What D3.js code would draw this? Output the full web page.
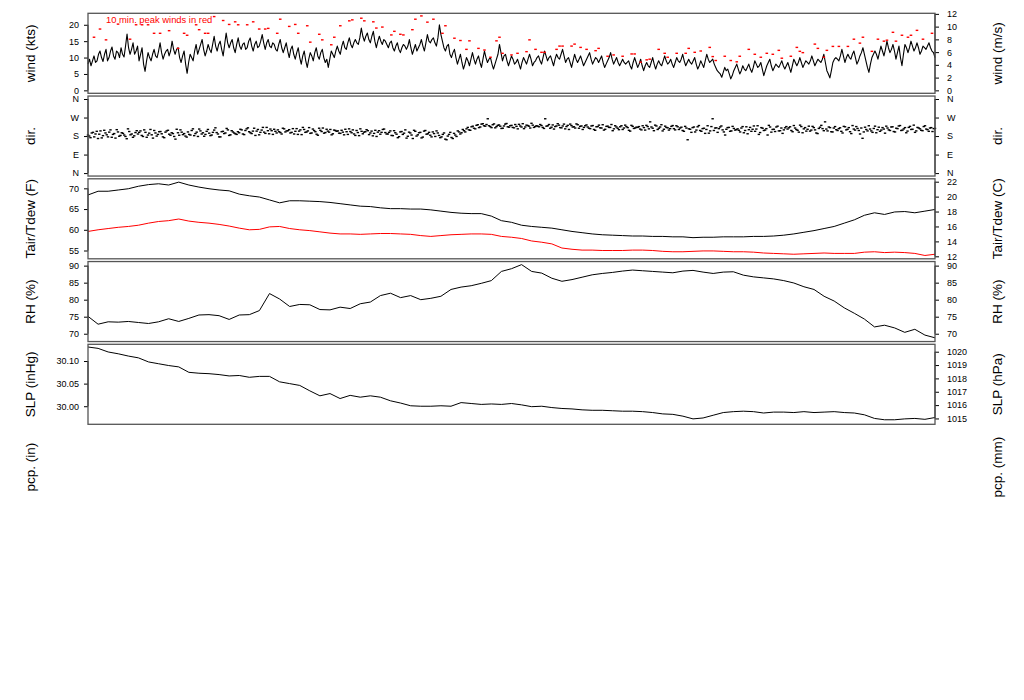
<!DOCTYPE html>
<html><head><meta charset="utf-8">
<script src="https://cdn.jsdelivr.net/npm/d3@7"></script>
<style>body{margin:0;background:#fff;} svg text{font-family:"Liberation Sans",Arial,Helvetica,sans-serif;}</style>
</head><body><script>
// ---------- DATA ----------
// wind speed (kts), main samples
const windKts = [
8.0,7.5,10.5,9.0,12.0,8.8,12.5,10.0,13.2,9.5,
11.5,13.0,10.2,17.2,11.0,14.5,12.0,9.0,13.0,5.8,
11.5,9.0,12.5,10.0,14.5,9.5,12.0,10.5,15.0,11.0,
13.0,8.5,12.0,5.2,11.0,9.0,14.0,12.5,15.5,10.5,
14.0,11.5,16.5,12.0,15.0,10.5,17.5,13.0,15.5,11.5,
16.0,12.5,14.5,13.0,16.0,12.0,15.0,13.5,17.0,12.5,
15.5,13.0,14.0,12.0,15.5,11.5,14.5,10.0,13.5,9.5,
13.0,8.0,12.0,7.0,11.5,9.0,13.0,9.5,12.5,8.5,
7.0,12.0,10.0,13.5,11.0,15.0,12.5,16.0,13.0,15.5,
14.0,19.0,15.0,17.5,14.5,18.0,13.0,16.5,14.0,15.0,
13.0,15.0,12.0,14.5,11.5,14.0,12.5,15.5,11.0,14.0,
13.0,15.5,12.0,17.0,14.5,16.0,13.5,20.0,15.0,12.0,
14.0,10.0,12.5,8.0,11.0,6.5,10.0,7.5,11.5,8.0,
10.5,7.0,12.0,8.5,10.0,6.5,9.5,14.0,9.0,11.0,
7.5,10.5,8.0,9.5,6.5,10.0,8.0,11.0,7.5,9.0,
10.5,8.0,12.0,9.0,10.5,7.5,11.0,9.5,12.5,8.5,
10.0,7.0,11.0,8.5,10.5,7.5,9.5,11.5,8.0,10.0,
8.5,10.5,7.0,9.0,11.5,8.0,10.0,7.5,9.5,8.0,
9.0,6.5,10.0,7.0,9.5,6.0,8.5,7.0,10.0,6.5,
9.0,7.5,10.5,8.0,9.5,7.0,10.0,8.5,11.0,7.5,
9.5,8.0,10.0,6.5,9.0,7.0,11.0,8.5,9.5,7.0,
5.5,4.0,7.0,6.5,3.5,6.0,8.0,5.0,7.5,6.0,
8.0,5.5,9.0,7.0,8.5,4.5,7.5,9.5,6.0,8.0,
7.0,9.0,6.5,8.5,5.5,9.5,7.5,10.0,7.0,9.0,
8.0,10.5,7.5,9.5,8.5,11.0,6.0,3.8,8.5,10.0,
9.0,12.5,8.5,11.0,9.5,12.0,8.0,10.5,13.0,9.0,
5.5,10.0,12.0,9.5,13.5,10.5,15.0,11.5,14.0,9.5,
13.5,7.5,14.0,11.5,15.0,12.0,14.5,11.0,13.5,12.5,
14.5,12.0,10.0];
// wind speed (kts), samples in between the main ones
const windKtsMid = [
9.5,9.0,8.5,11.0,10.0,11.0,9.0,12.0,10.5,12.0,
10.0,11.0,13.5,13.0,12.5,11.0,13.5,11.0,8.0,9.0,
10.0,11.0,10.5,12.0,11.5,11.0,12.5,12.0,12.5,12.5,
10.0,10.5,8.0,8.5,10.0,12.0,11.0,14.0,12.5,12.0,
12.5,14.0,13.5,14.0,12.5,14.0,14.5,14.5,13.0,14.0,
13.5,14.0,12.5,15.0,13.5,14.0,13.0,15.0,14.5,14.5,
13.5,14.5,12.5,14.0,13.0,13.0,12.0,12.5,11.0,11.5,
10.0,10.5,9.0,9.5,10.5,11.5,10.5,11.5,10.0,9.5,
9.5,11.0,12.0,12.0,13.5,13.0,14.5,14.0,14.5,14.5,
16.0,16.5,16.5,15.5,16.5,15.0,15.0,15.0,15.5,14.0,
14.5,13.0,13.5,12.5,13.0,13.5,13.5,13.0,12.5,12.0,
14.0,13.5,14.5,15.0,15.5,14.5,16.0,17.0,13.0,13.5,
11.0,11.5,10.0,9.5,8.5,8.0,9.0,9.5,9.5,9.5,
8.5,9.5,10.0,9.5,8.0,8.0,11.0,11.5,10.5,9.0,
9.0,9.5,8.5,8.0,8.5,9.0,9.5,9.5,8.5,10.0,
9.0,10.0,10.5,10.0,9.0,9.5,10.0,11.0,10.5,9.5,
8.5,9.0,9.5,9.5,9.0,8.5,10.5,9.5,9.0,9.5,
9.5,8.5,8.0,10.0,9.5,9.0,8.5,8.5,8.5,8.5,
7.5,8.5,8.5,8.0,7.5,7.5,7.5,8.5,8.0,8.0,
8.0,9.0,9.0,8.5,8.0,8.5,9.0,9.5,9.0,8.5,
8.5,9.0,8.0,7.5,8.0,9.0,9.5,9.0,8.0,6.0,
5.0,5.5,6.0,5.0,4.5,7.0,6.5,6.0,6.5,7.0,
6.5,7.0,8.0,7.5,6.5,6.0,8.5,7.5,7.0,7.5,
8.0,7.5,7.5,7.0,7.5,8.5,8.5,8.5,8.0,8.5,
9.0,9.0,8.5,9.0,9.5,8.5,5.0,6.0,9.5,9.5,
10.5,10.5,10.0,10.0,11.0,10.0,9.0,11.5,11.0,7.0,
8.0,11.0,11.0,11.5,12.0,12.5,13.0,12.5,12.0,11.5,
10.0,11.0,13.0,13.0,13.5,13.0,13.0,12.0,13.0,13.5,
13.0,11.5];

// 10-min peak winds: main-sample index and value (kts)
const gustIdx = [2,4,6,10,14,16,18,20,22,24,27,30,32,33,36,37,39,40,42,45,47,49,50,53,55,57,59,60,63,64,67,69,70,
73,74,77,78,81,82,84,87,88,91,92,95,96,98,101,102,104,105,108,109,111,113,115,118,119,122,124,126,127,130,132,134,136,137,138,141,
143,146,147,149,151,152,156,157,158,161,162,164,166,169,170,173,175,178,181,182,184,186,187,190,192,193,196,199,200,202,204,207,208,209,212,
214,216,217,220,222,224,226,228,230,231,234,236,237,238,242,243,245,246,248,250,253,255,257,258,261,263,265,266,268,269,271,273,274,276,278,281];
const gustKts = [16.2,18.7,15.4,20.2,15.6,20.0,20.0,20.0,17.4,17.4,18.2,12.8,17.4,16.8,20.0,18.5,17.4,17.4,22.5,21.3,20.1,20.9,20.0,20.0,20.9,18.7,18.7,18.9,17.4,21.7,19.5,20.1,17.4,
19.7,14.7,17.1,15.4,13.9,16.2,19.7,21.2,21.5,22.0,21.2,20.9,19.0,19.3,16.9,18.0,17.1,16.9,18.5,21.7,22.7,20.8,21.7,17.4,19.7,15.9,15.2,12.5,15.1,12.8,12.3,10.1,15.1,16.2,11.3,10.8,
11.3,11.8,15.4,12.5,11.6,11.6,12.5,13.5,13.5,13.5,14.1,13.1,12.5,12.1,12.8,10.4,10.8,10.4,11.1,11.1,8.6,9.3,9.5,12.5,11.3,10.1,11.3,11.3,12.8,11.6,12.0,13.1,10.3,9.1,10.4,
9.1,8.7,10.4,12.5,11.0,10.1,11.3,11.0,12.2,9.8,10.4,13.1,11.9,11.5,14.1,12.8,10.1,12.2,13.4,13.4,13.4,15.6,14.4,16.2,11.9,15.6,15.0,15.3,17.7,15.0,16.8,16.2,16.8,18.3,15.6,17.4];

// wind direction (deg), two interleaved sample sets
const dirDegA = [
185,172,198,190,168,205,182,195,176,210,188,170,200,183,193,178,215,186,174,197,
190,205,178,198,185,212,170,195,188,202,176,199,208,184,192,165,196,210,187,180,
200,185,215,192,178,205,196,188,212,182,198,220,190,176,203,195,210,186,200,191,
201,213,190,207,220,196,204,183,212,198,222,193,206,214,188,203,210,197,218,200,
206,195,216,203,188,210,222,198,205,193,214,201,184,208,219,197,204,212,191,207,
205,193,199,213,188,202,210,183,197,215,191,201,206,195,181,208,199,189,212,197,
190,205,182,196,172,200,188,210,179,195,168,203,186,198,175,207,191,184,200,178,
195,172,188,165,180,198,168,185,205,190,212,200,222,208,228,215,235,224,240,228,
264,226,235,220,232,228,218,238,225,230,222,236,215,229,240,224,231,219,233,226,
228,236,222,264,230,218,234,226,240,221,229,215,232,238,224,219,235,227,212,230,
224,216,231,208,226,220,235,213,228,222,206,230,218,225,212,233,221,204,227,219,
222,214,230,209,226,249,218,233,212,224,205,228,220,216,231,210,225,219,207,227,
162,213,221,200,225,207,216,193,230,205,264,219,198,224,210,185,221,203,227,209,
215,200,226,207,191,222,213,203,230,197,218,209,185,224,212,202,228,206,193,220,
214,225,201,219,208,233,196,221,213,204,227,210,192,223,216,249,205,221,200,226,
207,220,195,225,213,201,231,209,217,190,169,223,205,214,198,228,211,203,221,194,
219,207,225,200,216,231,209,221,204,227,213,198,222,215,206,230,211,219,202,217];
const dirDegB = [
180,195,176,203,189,171,208,186,199,174,192,211,179,196,185,167,202,190,181,206,
198,183,210,174,194,186,207,180,201,191,172,205,189,196,178,213,184,199,192,175,
188,207,182,199,214,190,179,203,194,185,209,197,176,201,192,217,183,206,195,188,
196,210,187,215,201,192,218,204,186,209,199,222,191,206,213,195,201,190,215,205,
211,198,190,216,204,187,212,200,221,195,207,189,218,202,194,213,199,186,209,203,
194,208,186,201,215,196,190,207,182,203,199,211,187,204,193,178,206,198,214,190,
198,183,206,189,177,202,194,170,199,185,208,180,196,171,204,189,198,176,192,205,
183,176,195,162,188,173,193,178,200,196,206,215,210,225,218,232,221,238,230,236,
230,221,239,226,234,217,229,241,223,232,220,227,237,224,216,233,228,242,222,230,
225,231,217,228,236,223,214,229,233,220,238,226,212,231,225,239,218,229,222,234,
218,229,212,225,233,219,209,227,222,236,215,224,211,230,219,226,208,232,217,223,
226,210,221,232,215,224,206,229,218,235,213,222,209,227,216,230,212,223,203,219,
215,198,224,209,231,203,218,212,194,226,207,220,216,229,200,213,222,205,217,211,
208,219,196,225,211,203,229,214,188,221,207,216,232,199,213,224,205,219,210,226,
220,207,231,212,199,226,215,204,228,209,221,195,217,232,206,214,224,201,219,211,
216,203,227,210,221,192,214,226,207,219,200,212,230,205,217,196,223,209,214,228,
210,224,202,218,229,207,215,196,222,212,233,205,219,208,226,214,203,221,216,210];

const tairF = [
68.4,69.3,69.3,69.6,69.9,70.5,70.9,71.1,70.8,71.5,
70.8,70.3,69.9,69.6,69.4,68.6,68.2,67.9,67.2,66.5,
67.0,67.0,66.9,66.8,66.6,66.3,66.0,65.7,65.6,65.3,
65.1,65.1,65.0,65.0,64.8,64.5,64.2,64.0,63.9,63.9,
63.3,62.2,61.8,61.1,60.8,60.6,60.4,60.0,59.6,59.3,
59.0,58.8,58.7,58.6,58.5,58.5,58.4,58.4,58.3,58.3,
58.1,58.2,58.2,58.3,58.3,58.3,58.4,58.4,58.5,58.7,
59.0,59.4,59.8,60.3,60.8,61.6,62.4,63.5,64.1,63.7,
64.3,64.4,64.1,64.5,64.9];

const tdewF = [
59.6,60.0,60.3,60.6,60.8,61.1,61.6,62.0,62.2,62.6,
62.1,61.8,61.6,61.3,60.9,60.4,60.0,60.1,60.7,60.8,
60.3,60.0,59.8,59.5,59.2,59.0,59.0,58.9,59.0,59.1,
59.1,59.0,58.9,58.6,58.4,58.6,58.8,58.9,59.0,59.0,
58.9,58.4,58.2,57.9,57.3,57.0,56.6,55.6,55.3,55.1,
55.1,55.0,55.0,55.0,55.1,55.1,55.0,54.8,54.7,54.7,
54.8,54.9,54.9,54.8,54.7,54.7,54.6,54.4,54.3,54.2,
54.1,54.2,54.3,54.4,54.3,54.3,54.3,54.6,54.7,54.5,
54.6,54.5,54.3,53.8,54.1];

const rhPct = [
75.1,72.8,73.5,73.4,73.6,73.3,73.0,73.5,74.4,73.6,
74.5,75.5,75.6,75.3,74.2,75.5,75.6,76.8,81.8,80.2,
78.0,78.6,78.5,77.1,77.0,77.8,77.4,78.8,79.3,81.2,
81.9,80.6,81.2,80.0,80.4,81.0,83.0,83.7,84.1,84.8,
85.6,88.3,89.1,90.3,88.3,87.8,86.3,85.4,85.9,86.6,
87.3,87.7,88.0,88.4,88.7,88.5,88.3,88.1,87.9,88.4,
88.6,88.1,87.7,88.1,88.2,87.2,86.7,86.4,86.1,85.6,
84.9,83.8,83.0,81.0,79.6,77.6,76.0,74.3,72.0,72.5,
71.7,70.4,71.3,69.6,68.8];

const slpInHg = [
30.131,30.128,30.120,30.116,30.111,30.107,30.098,30.094,30.090,30.087,
30.075,30.073,30.072,30.070,30.067,30.068,30.064,30.066,30.066,30.054,
30.050,30.046,30.034,30.023,30.028,30.017,30.024,30.020,30.023,30.020,
30.012,30.007,30.001,30.000,30.000,30.001,30.000,30.008,30.006,30.004,
30.005,30.004,30.006,30.003,29.999,30.000,29.997,29.995,29.994,29.992,
29.991,29.991,29.990,29.989,29.989,29.988,29.986,29.983,29.982,29.978,
29.972,29.974,29.980,29.986,29.988,29.989,29.988,29.985,29.987,29.987,
29.986,29.988,29.986,29.987,29.988,29.986,29.985,29.981,29.973,29.970,
29.970,29.972,29.973,29.971,29.975];

// tick values / labels
const windTicksKts = [0,5,10,15,20];
const windTicksMs = [0,2,4,6,8,10,12];
const dirTicks = [0,90,180,270,360];
const dirLabels = ["N","E","S","W","N"];
const tempTicksF = [55,60,65,70];
const tempTicksC = [12,14,16,18,20,22];
const rhTicks = [70,75,80,85,90];
const slpTicksInHg = [30.00,30.05,30.10];
const slpTicksHpa = [1015,1016,1017,1018,1019,1020];

const leftTitles = ["wind (kts)","dir.","Tair/Tdew (F)","RH (%)","SLP (inHg)","pcp. (in)"];
const rightTitles = ["wind (m/s)","dir.","Tair/Tdew (C)","RH (%)","SLP (hPa)","pcp. (mm)"];

// ---------- DRAW ----------
const W=1024,H=700,L=88,R=935;
const FONT='"Liberation Sans",Arial,Helvetica,sans-serif';
const svg=d3.select("body").append("svg").attr("width",W).attr("height",H).style("display","block");
const x=d3.scaleLinear().domain([0,1]).range([L,R]);
const tAt=(i,n)=>i/(n-1);
const panelH=80;
const panelTop=k=>13.3+82.75*k;
const yScale=(k,dom)=>d3.scaleLinear().domain(dom).range([panelTop(k)+panelH,panelTop(k)]);

const ktsPerMs=1.943844, inHgPerHpa=0.0295300;
const fOfC=c=>c*9/5+32;

const yW=yScale(0,[-0.9,23.5]);
const yD=yScale(1,[-14.4,374.4]);
const yT=yScale(2,[53.0,72.3]);
const yRH=yScale(3,[67.7,91.2]);
const yP=yScale(4,[29.960,30.137]);

function styleAxis(g,y,vals){
  g.attr("font-family",FONT).attr("font-size",9);
  g.selectAll("text").attr("fill","#000");
  g.selectAll(".tick line").attr("stroke","#000");
  g.select(".domain").remove();
  g.append("line").attr("y1",y(vals[0])).attr("y2",y(vals[vals.length-1])).attr("stroke","#000");
}
function leftAxis(y,vals,labels){
  const g=svg.append("g").attr("transform",`translate(${L},0)`)
    .call(d3.axisLeft(y).tickValues(vals).tickFormat((d,i)=>labels[i]).tickSize(4).tickPadding(5));
  styleAxis(g,y,vals);
}
function rightAxis(y,vals,labels){
  const g=svg.append("g").attr("transform",`translate(${R},0)`)
    .call(d3.axisRight(y).tickValues(vals).tickFormat((d,i)=>labels[i]).tickSize(4).tickPadding(8));
  styleAxis(g,y,vals);
}
function frame(k){
  svg.append("rect").attr("x",L).attr("y",panelTop(k)).attr("width",R-L).attr("height",panelH)
    .attr("fill","none").attr("stroke","#555").attr("stroke-width",1.3);
}
function series(arr,y,color,w){
  const n=arr.length;
  svg.append("path").datum(arr)
    .attr("d",d3.line().x((d,i)=>x(tAt(i,n))).y(d=>y(d)))
    .attr("fill","none").attr("stroke",color).attr("stroke-width",w||1).attr("stroke-linejoin","round");
}

// wind: interleave main and in-between samples
const nW=windKts.length;
const windAll=[];
windKts.forEach((v,i)=>{ windAll.push({t:i/(nW-1),v}); if(i<windKtsMid.length) windAll.push({t:(i+0.5)/(nW-1),v:windKtsMid[i]}); });
svg.append("path").datum(windAll)
  .attr("d",d3.line().x(d=>x(d.t)).y(d=>yW(d.v)))
  .attr("fill","none").attr("stroke","#000").attr("stroke-width",1.1).attr("stroke-linejoin","round");
svg.append("g").selectAll("rect").data(gustIdx).join("rect")
  .attr("x",d=>x(d/(nW-1))-1.3).attr("width",2.6)
  .attr("y",(d,i)=>yW(gustKts[i])-0.7).attr("height",1.4).attr("fill","#ff0000");
svg.append("text").attr("x",106).attr("y",22.5).attr("font-size",9.4).attr("fill","#ff0000")
  .text("10 min. peak winds in red");
leftAxis(yW,windTicksKts,windTicksKts.map(String));
rightAxis(yW,windTicksMs.map(v=>v*ktsPerMs),windTicksMs.map(String));

// direction
const nD=dirDegA.length;
const dirAll=[];
dirDegA.forEach((v,i)=>{ dirAll.push({t:i/(nD-1),v}); if(i<nD-1) dirAll.push({t:(i+0.5)/(nD-1),v:dirDegB[i]}); });
svg.append("g").selectAll("rect").data(dirAll).join("rect")
  .attr("x",d=>x(d.t)-1.2).attr("width",2.4)
  .attr("y",d=>yD(d.v)-0.7).attr("height",1.4).attr("fill","#000");
leftAxis(yD,dirTicks,dirLabels);
rightAxis(yD,dirTicks,dirLabels);

// temperature
series(tairF,yT,"#000");
series(tdewF,yT,"#ff0000");
leftAxis(yT,tempTicksF,tempTicksF.map(String));
rightAxis(yT,tempTicksC.map(fOfC),tempTicksC.map(String));

// RH
series(rhPct,yRH,"#000");
leftAxis(yRH,rhTicks,rhTicks.map(String));
rightAxis(yRH,rhTicks,rhTicks.map(String));

// SLP
series(slpInHg,yP,"#000");
leftAxis(yP,slpTicksInHg,slpTicksInHg.map(v=>v.toFixed(2)));
rightAxis(yP,slpTicksHpa.map(v=>v*inHgPerHpa),slpTicksHpa.map(String));

for(let k=0;k<5;k++) frame(k);

// titles
leftTitles.forEach((t,k)=>{
  const cy=panelTop(k)+panelH/2;
  svg.append("text").attr("transform",`translate(30,${cy}) rotate(-90)`).attr("dy","0.35em")
    .attr("text-anchor","middle").attr("font-size",13.5).attr("fill","#000").text(t);
});
rightTitles.forEach((t,k)=>{
  const cy=panelTop(k)+panelH/2;
  svg.append("text").attr("transform",`translate(997,${cy}) rotate(-90)`).attr("dy","0.35em")
    .attr("text-anchor","middle").attr("font-size",13.5).attr("fill","#000").text(t);
});
</script></body></html>
